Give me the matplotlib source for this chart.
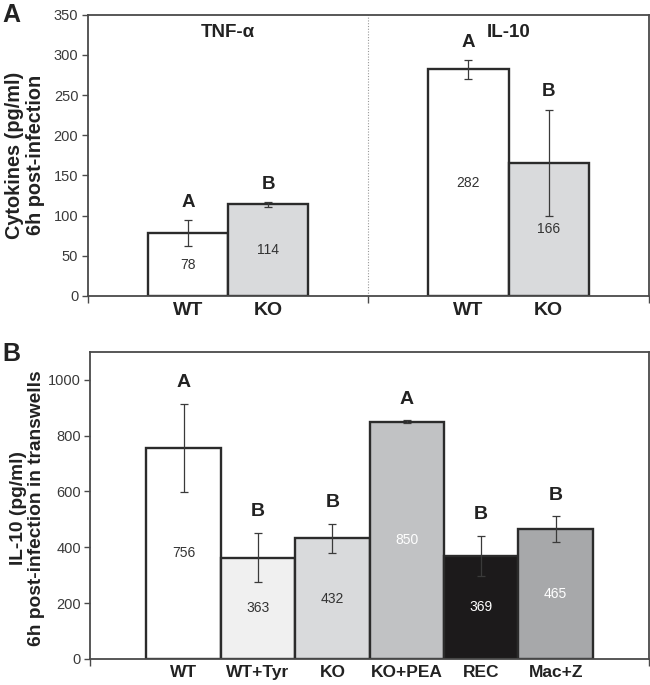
import numpy as np
import matplotlib
matplotlib.use("Agg")
import matplotlib.pyplot as plt

plt.rcParams['font.family'] = ['Liberation Sans', 'DejaVu Sans']

# panel A data
a_groups = ["TNF-α", "IL-10"]
a_labels = ["WT", "KO", "WT", "KO"]
a_values = [78, 114, 282, 166]
a_errors = [16, 3, 12, 66]
a_letters = ["A", "B", "A", "B"]
a_colors = ["#ffffff", "#d9dadc", "#ffffff", "#d9dadc"]

# panel B data
b_labels = ["WT", "WT+Tyr", "KO", "KO+PEA", "REC", "Mac+Z"]
b_values = [756, 363, 432, 850, 369, 465]
b_errors = [158, 89, 53, 6, 73, 47]
b_letters = ["A", "B", "B", "A", "B", "B"]
b_colors = ["#ffffff", "#f0f0f0", "#d9dadc", "#c1c2c4", "#1c1a1b", "#a7a8aa"]
b_textcolors = ["#333333", "#333333", "#333333", "#ffffff", "#ffffff", "#ffffff"]

spine_c = "#4a4a4a"
edge_c = "#2b2b2b"

fig = plt.figure(figsize=(6.5, 6.85), dpi=100)
axA = fig.add_axes([0.1354, 0.5679, 0.8626, 0.4106])
axB = fig.add_axes([0.1392, 0.038, 0.8588, 0.4483])

def style(ax):
    for s in ax.spines.values():
        s.set_color(spine_c)
        s.set_linewidth(1.3)
    ax.tick_params(axis='y', direction='out', length=4, width=1, color=spine_c,
                   labelsize=10.5, labelcolor="#3a3a3a", pad=3)
    ax.tick_params(axis='x', direction='out', length=5, width=1, color=spine_c,
                   labelbottom=False)

# ---- panel A
xa = np.array([1.25, 2.25, 4.75, 5.75])
axA.bar(xa, a_values, width=1.0, color=a_colors, edgecolor=edge_c, linewidth=1.7, zorder=2)
axA.errorbar(xa, a_values, yerr=a_errors, fmt='none', ecolor="#3a3a3a",
             elinewidth=0.9, capsize=3, capthick=0.9, zorder=3)
for x, v, e, l in zip(xa, a_values, a_errors, a_letters):
    axA.text(x, v / 2, str(v), ha='center', va='center', fontsize=10, color="#333333")
    axA.text(x, v + e + 22, l, ha='center', va='center', fontsize=13.5,
             fontweight='bold', color="#222222")
for x, l in zip(xa, a_labels):
    axA.text(x, -17.5, l, ha='center', va='center', fontsize=14,
             fontweight='bold', color="#222222")
for x, g in zip([1.75, 5.25], a_groups):
    axA.text(x, 328, g, ha='center', va='center', fontsize=13.5,
             fontweight='bold', color="#222222")
axA.axvline(3.5, color="#999999", linewidth=0.8, linestyle=(0, (1, 1.5)), zorder=1)
axA.set_xlim(0, 7)
axA.set_ylim(0, 350)
axA.set_yticks(np.arange(0, 351, 50))
axA.set_xticks([0, 3.5, 7])
style(axA)
axA.set_ylabel("Cytokines (pg/ml)\n6h post-infection", fontsize=14.3,
               fontweight='bold', color="#222222", linespacing=1.1)
axA.yaxis.set_label_coords(-0.077, 0.5)

# ---- panel B
xb = np.arange(len(b_values)) + 1.25
axB.bar(xb, b_values, width=1.0, color=b_colors, edgecolor=edge_c, linewidth=1.7, zorder=2)
axB.errorbar(xb, b_values, yerr=b_errors, fmt='none', ecolor="#3a3a3a",
             elinewidth=0.9, capsize=3, capthick=0.9, zorder=3)
for x, v, e, l, tc in zip(xb, b_values, b_errors, b_letters, b_textcolors):
    axB.text(x, v / 2, str(v), ha='center', va='center', fontsize=10, color=tc)
    axB.text(x, v + e + 75, l, ha='center', va='center', fontsize=14,
             fontweight='bold', color="#222222")
for x, l in zip(xb, b_labels):
    axB.text(x, -47, l, ha='center', va='center', fontsize=12.5,
             fontweight='bold', color="#222222")
axB.set_xlim(0, 7.5)
axB.set_ylim(0, 1100)
axB.set_yticks(np.arange(0, 1001, 200))
axB.set_xticks([0, 7.5])
style(axB)
axB.set_ylabel("IL-10 (pg/ml)\n6h post-infection in transwells", fontsize=13.8,
               fontweight='bold', color="#222222", linespacing=1.1)
axB.yaxis.set_label_coords(-0.081, 0.49)

fig.text(0.003, 0.995, "A", fontsize=18, fontweight='bold', va='top', ha='left', color="#222222")
fig.text(0.003, 0.501, "B", fontsize=18, fontweight='bold', va='top', ha='left', color="#222222")

fig.savefig("out.png", dpi=100)
